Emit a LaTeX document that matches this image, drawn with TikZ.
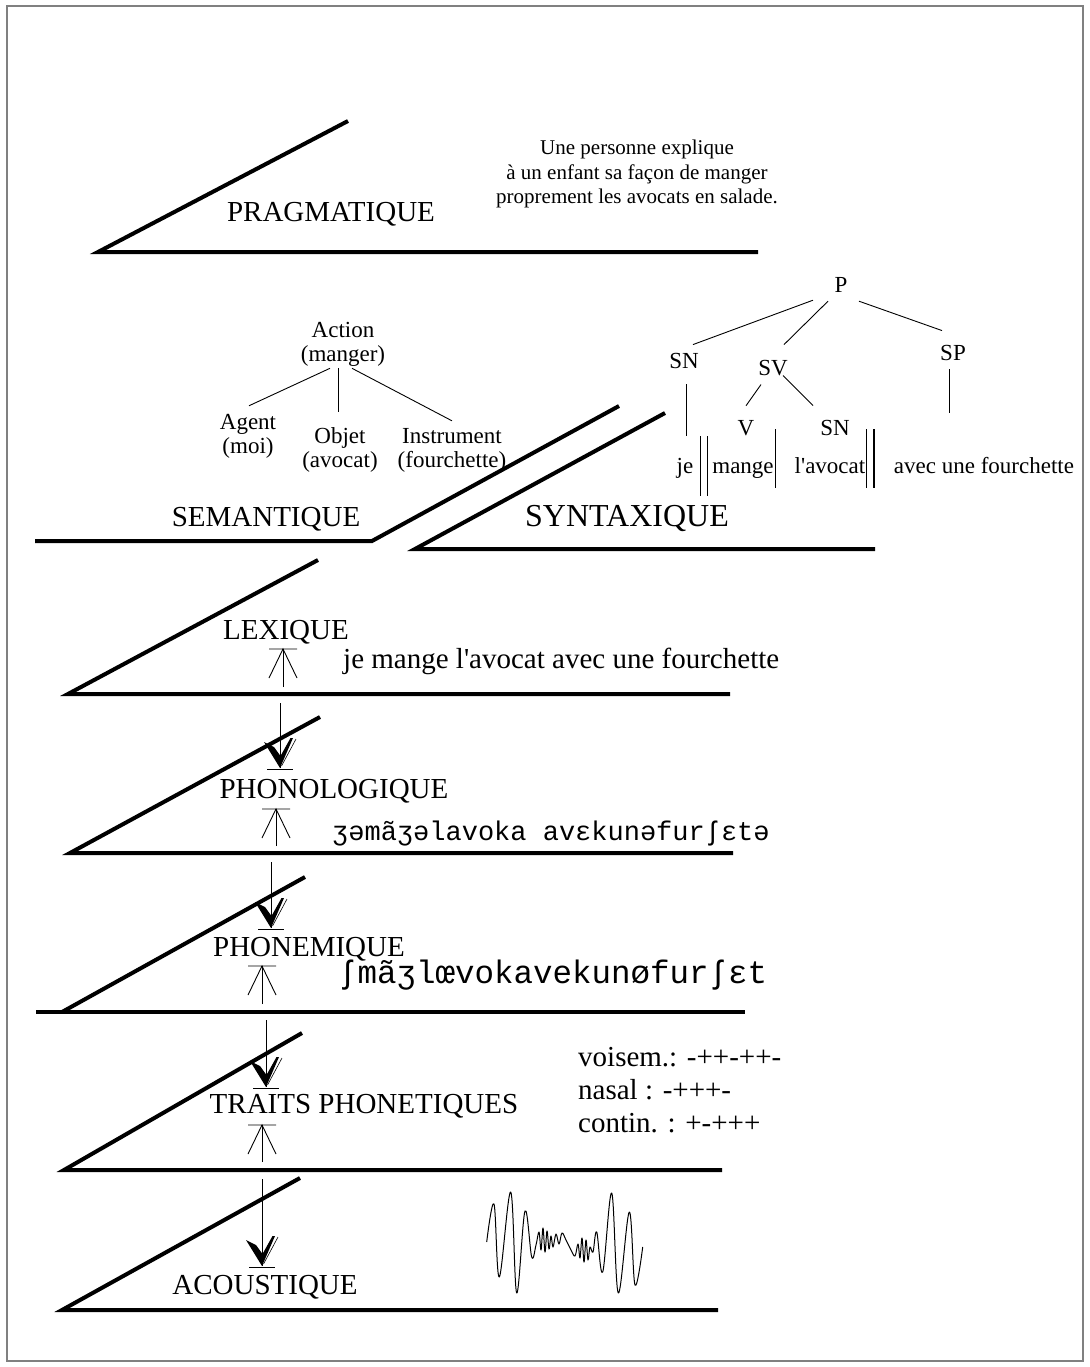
\documentclass[tikz,border=0pt]{standalone}
\usepackage{fontspec}
\setmainfont{Liberation Serif}
\newfontfamily\ipafont{Liberation Mono}
\begin{document}
\begin{tikzpicture}[x=1pt,y=-1pt,
  stratum/.style={line width=4pt, line join=miter},
  lvl/.style={font=\fontsize{29}{34}\selectfont, inner sep=0pt, anchor=base},
  treelbl/.style={font=\fontsize{23}{25}\selectfont, inner sep=0pt, anchor=base},
  semlbl/.style={font=\fontsize{23}{24}\selectfont, inner sep=0pt, align=center},
  treeedge/.style={line width=0.9pt},
  divider/.style={line width=1.1pt},
  stemline/.style={line width=0.8pt},
  ipa/.style={font=\ipafont\fontsize{27}{30}\selectfont, inner sep=0pt, anchor=base west},
  feat/.style={font=\fontsize{29}{33}\selectfont, inner sep=0pt, anchor=base west},
  uphead/.pic={\draw[line width=0.9pt] (-14,0) -- (14,0) (-14,29) -- (0,0) -- (14,29);},
  downhead/.pic={\fill (-16,-26) -- (0,0) -- (13,-30) -- (10.5,-30) -- (0.5,-12) -- (-6,-21) -- cycle;
                 \draw[line width=0.6pt] (16,-29) -- (1.5,-2);
                 \draw[line width=0.9pt] (-13,1) -- (13,1);},
]
\useasboundingbox (0,0) rectangle (1089,1367);
\draw[black!50, line width=2pt] (7,6) rectangle (1083,1361);

% ---- the levels (slanted edge + base line)
\draw[stratum] (348,121) -- (98,252) -- (758,252);
\draw[stratum] (35,541) -- (372,541) -- (619,406);
\draw[stratum] (665,413) -- (415,549) -- (875,549);
\draw[stratum] (318,560) -- (68,694) -- (730,694);
\draw[stratum] (320,717) -- (70,853) -- (733,853);
\draw[stratum] (305,877) -- (62,1012);
\draw[stratum] (36,1012) -- (745,1012);
\draw[stratum] (302,1033) -- (64,1170) -- (722,1170);
\draw[stratum] (300,1178) -- (62,1310) -- (718,1310);

% ---- level names
\node[lvl] (prag) at (331,222) {PRAGMATIQUE};
\node[lvl] (sem) at (266,526) {SEMANTIQUE};
\node[lvl, font=\fontsize{32}{36}\selectfont] (syn) at (627,526) {SYNTAXIQUE};
\node[lvl] (lex) at (286,639) {LEXIQUE};
\node[lvl] (phonol) at (334,798) {PHONOLOGIQUE};
\node[lvl] (phonem) at (309,956) {PHONEMIQUE};
\node[lvl] (traits) at (364,1113) {TRAITS PHONETIQUES};
\node[lvl] (acou) at (265,1294) {ACOUSTIQUE};

% ---- pragmatic context
\node[font=\fontsize{21}{24.5}\selectfont, align=center, inner sep=0pt] (context) at (637,174)
  {Une personne explique\\à un enfant sa façon de manger\\proprement les avocats en salade.};

% ---- semantic tree
\node[semlbl] (action) at (343,344) {Action\\(manger)};
\node[semlbl] (agent) at (248,436) {Agent\\(moi)};
\node[semlbl] (objet) at (340,450) {Objet\\(avocat)};
\node[semlbl] (instr) at (452,450) {Instrument\\(fourchette)};
\draw[treeedge] ([xshift=-13pt,yshift=-2pt]action.south) -- ([xshift=1pt,yshift=8pt]agent.north);
\draw[treeedge] ([xshift=-5pt,yshift=-2pt]action.south) -- ([xshift=-2pt,yshift=15pt]objet.north);
\draw[treeedge] ([xshift=9pt,yshift=-2pt]action.south) -- ([yshift=7pt]instr.north);

% ---- syntactic tree
\node[treelbl] (P) at (841,292) {P};
\node[treelbl] (SN1) at (684,368) {SN};
\node[treelbl] (SV) at (773,375) {SV};
\node[treelbl] (SP) at (953,360) {SP};
\node[treelbl] (V) at (746,435) {V};
\node[treelbl] (SN2) at (835,435) {SN};
\node[treelbl] (je) at (685,473) {je};
\node[treelbl] (mange) at (743,473) {mange};
\node[treelbl] (avocat) at (830,473) {l\textquotesingle avocat};
\node[treelbl] (avec) at (984,473) {avec une fourchette};
\draw[treeedge] ([xshift=-28pt,yshift=-8pt]P.south) -- ([xshift=9pt,yshift=8pt]SN1.north);
\draw[treeedge] ([xshift=-13pt,yshift=-9pt]P.south) -- ([xshift=11pt,yshift=15pt]SV.north);
\draw[treeedge] ([xshift=18pt,yshift=-9pt]P.south) -- ([xshift=-11pt,yshift=14pt]SP.north);
\draw[treeedge] ([xshift=2pt,yshift=-16pt]SN1.south) -- ([xshift=1pt,yshift=22pt]je.north);
\draw[treeedge] ([xshift=-12pt,yshift=-9pt]SV.south) -- ([yshift=14pt]V.north);
\draw[treeedge] ([xshift=10pt]SV.south) -- ([xshift=-22pt,yshift=14pt]SN2.north);
\draw[treeedge] ([xshift=-4pt,yshift=-9pt]SP.south) -- ([xshift=-35pt,yshift=44pt]avec.north);
% constituent boundaries
\draw[divider] (700.7,436) -- (700.7,496) (707.7,436) -- (707.7,496);
\draw[divider] (775.7,429) -- (775.7,488);
\draw[divider] (866.7,429) -- (866.7,488) (874,429) -- (874,488);

% ---- representations
\node[lvl, anchor=base west] (lexsent) at (343,668) {je mange l\textquotesingle avocat avec une fourchette};
\node[ipa] (phonolipa) at (332,840) {ʒəmãʒəlavoka avɛkunəfurʃɛtə};
\node[ipa, font=\ipafont\fontsize{32.5}{35}\selectfont] (phonemipa) at (338,983) {ʃmãʒlœvokavekunøfurʃɛt};
\node[feat] (voisem) at (578,1066) {voisem.: -++-++-};
\node[feat] (nasal) at (578,1099) {nasal : -+++-};
\node[feat] (contin) at (578,1132) {contin. : +-+++};

% ---- waveform
\draw[line width=1pt, line join=round] plot[smooth, tension=0.6] coordinates {
  (486.7,1242) (494,1204) (499.3,1277) (510.7,1192) (516.7,1293) (525,1211) (531.7,1257)
  (536,1245) (539,1232) (541,1250) (543,1228) (545,1252) (547,1231) (549,1249) (551,1236)
  (553,1247) (556,1234) (559,1244) (562,1233) (566,1240) (571,1250) (575,1256) (578,1244)
  (580,1258) (582,1238) (584,1262) (586,1240) (588,1260) (590,1247) (593,1252) (596.7,1232)
  (602.7,1272) (611.7,1193) (618.3,1293) (629.3,1212) (635,1285) (642.7,1247)};

% ---- arrows between levels
\coordinate (u1h) at (283,649);  \coordinate (u1t) at (283,687);
\coordinate (d1t) at (280,703);  \coordinate (d1h) at (280,768);
\coordinate (u2h) at (276,809);  \coordinate (u2t) at (276,846);
\coordinate (d2t) at (271,862);  \coordinate (d2h) at (271,928);
\coordinate (u3h) at (262,966);  \coordinate (u3t) at (262,1004);
\coordinate (d3t) at (266,1020); \coordinate (d3h) at (266,1087);
\coordinate (u4h) at (262,1125); \coordinate (u4t) at (262,1162);
\coordinate (d4t) at (262,1179); \coordinate (d4h) at (262,1266);
\foreach \a in {u1,u2,u3,u4} {
  \draw[stemline] (\a t) -- (\a h);
  \pic at (\a h) {uphead};
}
\foreach \a in {d1,d2,d3,d4} {
  \draw[stemline] (\a t) -- (\a h);
  \pic at (\a h) {downhead};
}
\end{tikzpicture}
\end{document}
